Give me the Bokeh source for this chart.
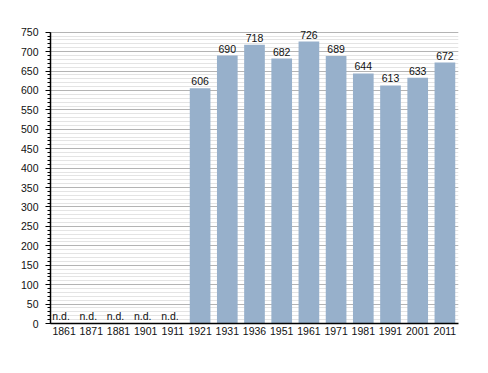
from bokeh.plotting import figure
from bokeh.models import ColumnDataSource, FixedTicker, LabelSet, Range1d
from bokeh.core.properties import value
from bokeh.embed import file_html
from bokeh.resources import INLINE

years = ["1861", "1871", "1881", "1901", "1911", "1921", "1931", "1936",
         "1951", "1961", "1971", "1981", "1991", "2001", "2011"]
population = [None, None, None, None, None, 606, 690, 718, 682, 726, 689, 644, 613, 633, 672]
y_ticks = list(range(0, 751, 50))

present_years = [y for y, v in zip(years, population) if v is not None]
present_vals = [v for v in population if v is not None]
missing_years = [y for y, v in zip(years, population) if v is None]

src = ColumnDataSource(dict(x=present_years, top=present_vals,
                            label=[str(v) for v in present_vals]))
nd_src = ColumnDataSource(dict(x=missing_years, y=[0] * len(missing_years),
                               label=["n.d."] * len(missing_years)))

p = figure(x_range=years, y_range=Range1d(0, 775), width=478, height=364,
           output_backend="svg", toolbar_location=None,
           min_border_left=50, min_border_top=22, min_border_right=20,
           min_border_bottom=41)
p.outline_line_color = None
p.background_fill_color = "white"

p.vbar(x="x", top="top", width=0.76, source=src, color="#97b0cb", line_color=None)

font = "'Liberation Sans', Arial, Helvetica, sans-serif"
p.add_layout(LabelSet(x="x", y="top", text="label", source=src, text_align="center",
                      text_baseline="bottom", y_offset=3, text_font_size="10.5px",
                      text_font=value(font), text_color="#111111"))
p.add_layout(LabelSet(x="x", y="y", text="label", source=nd_src, text_align="center",
                      text_baseline="bottom", y_offset=2, x_offset=-3,
                      text_font_size="10.5px", text_font=value(font), text_color="#111111"))

p.yaxis.ticker = FixedTicker(ticks=y_ticks, minor_ticks=list(range(0, 751, 10)))
p.yaxis.bounds = (0, 750)
p.ygrid.ticker = p.yaxis.ticker
p.ygrid.grid_line_color = "#b4b4b4"
p.ygrid.minor_grid_line_color = "#e4e4e4"
p.xgrid.grid_line_color = None
p.ygrid.level = "underlay"

for ax in (p.xaxis, p.yaxis):
    ax.axis_line_color = "black"
    ax.major_label_text_font = font
    ax.major_label_text_font_size = "10.5px"
    ax.major_label_text_color = "#111111"

p.yaxis.major_tick_in = 0
p.yaxis.major_tick_out = 5
p.yaxis.minor_tick_in = 0
p.yaxis.minor_tick_out = 3
p.yaxis.major_tick_line_color = "black"
p.yaxis.minor_tick_line_color = "black"
p.yaxis.major_label_standoff = 7
p.yaxis.axis_line_width = 1.5

p.xaxis.major_tick_line_color = None
p.xaxis.minor_tick_line_color = None
p.xaxis.major_tick_out = 0
p.xaxis.major_tick_in = 0
p.xaxis.major_label_standoff = 3
p.xaxis.axis_line_width = 1.5
p.x_range.range_padding = 0

open("out.html", "w").write(file_html(p, INLINE))
